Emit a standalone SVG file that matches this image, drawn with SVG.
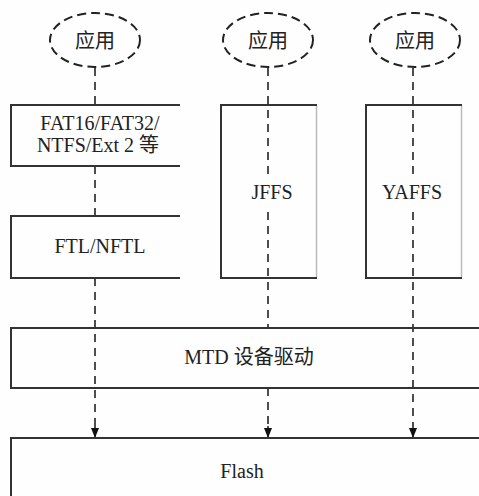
<svg xmlns="http://www.w3.org/2000/svg" width="479" height="496" viewBox="0 0 479 496">
  <style>
    .bg { fill: #fefefe; }
    .app { fill: none; stroke: #222; stroke-width: 2; stroke-dasharray: 9 5; }
    .box { fill: none; stroke: #333; stroke-width: 2; }
    .soft { fill: none; stroke: #bbb; stroke-width: 1.5; }
    .flow { fill: none; stroke: #222; stroke-width: 1.6; stroke-dasharray: 8 6; }
    .solid { fill: none; stroke: #222; stroke-width: 1.6; }
    .lbl { font-family: "Liberation Serif", "Noto Sans CJK SC", serif; font-size: 20px; fill: #222; text-anchor: middle; }
  </style>
  <defs>
    <!-- filled arrowhead, drawn along +x and rotated with the line -->
    <marker id="tri" markerWidth="10" markerHeight="8" refX="10" refY="4" orient="auto" markerUnits="userSpaceOnUse" viewBox="0 0 10 8">
      <path d="M0,0 L10,4 L0,8 Z" fill="#111"/>
    </marker>
  </defs>
  <rect class="bg" x="0" y="0" width="479" height="496"/>

  <g id="connectors">
    <!-- left stack -->
    <line class="flow" x1="95" y1="68" x2="95" y2="105"/>
    <line class="flow" x1="95" y1="166" x2="95" y2="216"/>
    <path d="M95,278 V426" class="flow"/>
    <path d="M95,426 V438" class="solid" marker-end="url(#tri)"/>
    <!-- middle stack -->
    <line class="flow" x1="268" y1="68" x2="268" y2="174"/>
    <line class="flow" x1="268" y1="212" x2="268" y2="328"/>
    <path d="M268,388 V426" class="flow"/>
    <path d="M268,426 V438" class="solid" marker-end="url(#tri)"/>
    <!-- right stack -->
    <line class="flow" x1="413" y1="68" x2="413" y2="174"/>
    <line class="flow" x1="413" y1="212" x2="413" y2="426"/>
    <path d="M413,426 V438" class="solid" marker-end="url(#tri)"/>
  </g>

  <g id="app1">
    <ellipse class="app" cx="95" cy="40" rx="45" ry="27"/>
    <text class="lbl" x="95" y="48">应用</text>
  </g>
  <g id="app2">
    <ellipse class="app" cx="268" cy="40" rx="45" ry="27"/>
    <text class="lbl" x="268" y="48">应用</text>
  </g>
  <g id="app3">
    <ellipse class="app" cx="415" cy="40" rx="45" ry="27"/>
    <text class="lbl" x="415" y="48">应用</text>
  </g>

  <g id="fat">
    <path class="box" d="M180,105 H11 V166 H180"/>
    <text class="lbl" x="100" y="130">FAT16/FAT32/</text>
    <text class="lbl" x="98" y="152">NTFS/Ext 2 等</text>
  </g>
  <g id="ftl">
    <path class="box" d="M180,216 H11 V278 H180"/>
    <text class="lbl" x="100" y="253">FTL/NFTL</text>
  </g>
  <g id="jffs">
    <path class="box" d="M317,105 H221 V278 H317"/>
    <line class="soft" x1="316.5" y1="106" x2="316.5" y2="277"/>
    <text class="lbl" x="272" y="199">JFFS</text>
  </g>
  <g id="yaffs">
    <path class="box" d="M462,105 H366 V278 H462"/>
    <line class="soft" x1="461.5" y1="106" x2="461.5" y2="277"/>
    <text class="lbl" x="412" y="199">YAFFS</text>
  </g>
  <g id="mtd">
    <path class="box" d="M479,328 H11 V388 H479"/>
    <text class="lbl" x="249" y="364">MTD 设备驱动</text>
  </g>
  <g id="flash">
    <path class="box" d="M479,438 H11 V496"/>
    <text class="lbl" x="242" y="478">Flash</text>
  </g>
</svg>
